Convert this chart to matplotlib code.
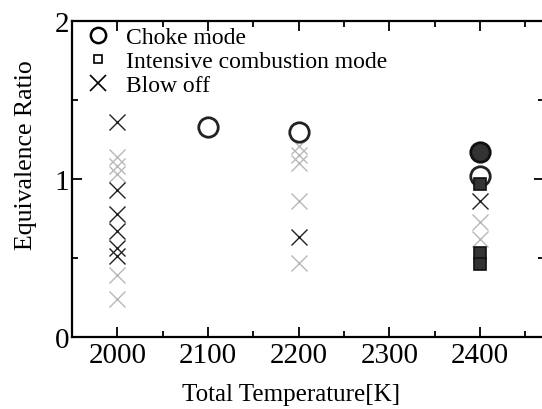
import matplotlib
matplotlib.use("Agg")
import matplotlib.pyplot as plt
from matplotlib.lines import Line2D
from matplotlib.ticker import MultipleLocator

plt.rcParams['font.family'] = ['Liberation Serif', 'DejaVu Serif']

# choke mode (open circles), and the dense ones at 2400 K
choke_T = [2100, 2200, 2400]
choke_phi = [1.33, 1.30, 1.02]
choke_dense_T = [2400]
choke_dense_phi = [1.17]

# intensive combustion mode
intense_T = [2400, 2400, 2400]
intense_phi = [0.97, 0.53, 0.46]

# blow off, clearly printed
blow_T = [2000, 2000, 2000, 2000, 2000, 2000, 2200, 2400]
blow_phi = [1.36, 0.93, 0.78, 0.67, 0.56, 0.51, 0.63, 0.86]
# blow off, faint in the scan
blow_faint_T = [2000, 2000, 2000, 2000, 2000, 2200, 2200, 2200, 2200, 2200, 2400, 2400]
blow_faint_phi = [1.14, 1.08, 1.03, 0.39, 0.24, 1.21, 1.15, 1.10, 0.86, 0.47, 0.73, 0.62]

xticks = [2000, 2100, 2200, 2300, 2400]
yticks = [0, 1, 2]

fig = plt.figure(figsize=(5.42, 4.10), dpi=100)
ax = fig.add_axes([0.133, 0.176, 0.870, 0.770])

ax.plot(blow_faint_T, blow_faint_phi, 'x', color='#b8b8b8', ms=11, mew=1.0, ls='none')
ax.plot(blow_T, blow_phi, 'x', color='#222222', ms=11, mew=1.0, ls='none')
ax.plot(choke_T, choke_phi, 'o', mfc='none', mec='#222222', ms=14, mew=2.0, ls='none')
ax.plot(choke_dense_T, choke_dense_phi, 'o', mfc='#333333', mec='#111111', ms=14, mew=2.0, ls='none')
ax.plot(intense_T, intense_phi, 's', mfc='#333333', mec='#111111', ms=9, mew=1.2, ls='none')

ax.set_xlim(1950, 2470)
ax.set_ylim(0, 2)
ax.set_xticks(xticks)
ax.set_yticks(yticks)
ax.xaxis.set_minor_locator(MultipleLocator(50))
ax.yaxis.set_minor_locator(MultipleLocator(0.5))
ax.tick_params(which='both', direction='in', top=True, right=True, labelsize=21, width=1.3)
ax.tick_params(which='major', length=7)
ax.tick_params(which='minor', length=4)
ax.tick_params(axis='y', pad=2)
for s in ax.spines.values():
    s.set_linewidth(1.6)

ax.set_xlabel('Total Temperature[K]', fontsize=18)
ax.set_ylabel('Equivalence Ratio', fontsize=18.5)
ax.xaxis.set_label_coords(0.465, -0.145)
ax.yaxis.set_label_coords(-0.075, 0.58)

handles = [
    Line2D([], [], marker='o', ls='none', mfc='none', mec='black', ms=11, mew=1.8),
    Line2D([], [], marker='s', ls='none', mfc='none', mec='black', ms=6, mew=1.2),
    Line2D([], [], marker='x', ls='none', color='black', ms=11, mew=1.2),
]
labels = ['Choke mode', 'Intensive combustion mode', 'Blow off']
ax.legend(handles, labels, loc='upper left', bbox_to_anchor=(0.0, 1.02), frameon=False,
          fontsize=17, handlelength=1.2, handletextpad=0.6, labelspacing=0.1,
          borderpad=0.3, borderaxespad=0.2)

fig.savefig('out.png', dpi=100)
